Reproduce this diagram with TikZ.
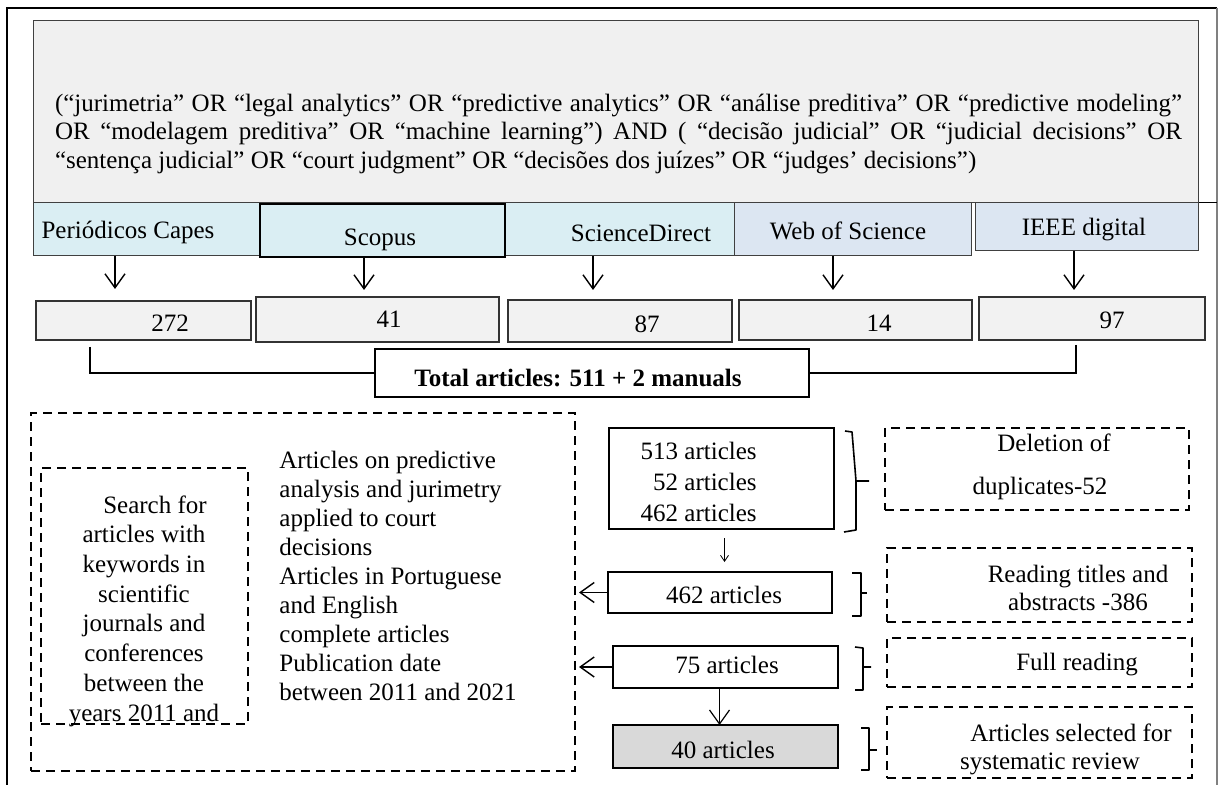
\documentclass[tikz,border=0pt]{standalone}
\usepackage{fontspec}
\setmainfont{Liberation Serif}
\usetikzlibrary{fit,arrows.meta}
\definecolor{cyanlite}{HTML}{DAEEF3}
\definecolor{bluelite}{HTML}{DCE6F2}
\definecolor{qgray}{HTML}{F0F0F0}
\definecolor{cgray}{HTML}{F2F2F2}
\definecolor{selgray}{HTML}{D9D9D9}
\begin{document}
\begin{tikzpicture}[x=0.5pt,y=-0.5pt,
  every node/.style={font=\fontsize{12.5}{14.4}\selectfont},
  frame/.style={inner sep=0pt, outer sep=0pt},
  dbbox/.style={frame, draw=black!75, line width=0.5pt},
  cntbox/.style={frame, draw=black!80, fill=cgray, line width=0.8pt},
  solidbox/.style={frame, draw=black, line width=0.8pt, fill=white},
  dashbox/.style={frame, draw=black, line width=0.8pt, dash pattern=on 4.5pt off 3pt},
  txt/.style={inner sep=0pt, text height=8.6pt, text depth=2.7pt},
  arr/.style={line width=0.7pt, -{Straight Barb[length=7pt,width=10pt]}},
  smallarr/.style={line width=0.4pt, -{Straight Barb[length=3pt,width=4pt]}},
  brace/.style={line width=0.8pt, line join=round}]
\useasboundingbox (0,0) rectangle (1219,785);
\fill[white] (0,0) rectangle (1219,785);
% outer frame
\draw[line width=1pt] (7,785) -- (7,8) -- (1217,8);
\draw[black!50, line width=0.6pt] (1217,8) -- (1217,785);
% query
\node[dbbox, fill=qgray, fit={(33,21) (1198,203)}] (query) {};
\coordinate (qr) at (1217,203);
\draw[line width=0.5pt] (query.south east) -- (qr);
\node[text width=563.5pt, align=justify, inner sep=0pt] (qtext) at (618.5,134) {(“jurimetria” OR “legal analytics” OR “predictive analytics” OR “análise preditiva” OR “predictive modeling”\linebreak OR “modelagem preditiva” OR “machine learning”) AND ( “decisão judicial” OR “judicial decisions” OR\linebreak “sentença judicial” OR “court judgment” OR “decisões dos juízes” OR “judges’ decisions”)};
% databases
\node[dbbox, fill=cyanlite, fit={(33,203) (260,256)}] (capes) {};
\node[dbbox, fill=cyanlite, fit={(505,203) (734,256)}] (sd) {};
\node[frame, draw=black, line width=1pt, fill=cyanlite, fit={(260,204) (505,257)}] (scopus) {};
\node[dbbox, fill=bluelite, fit={(734,203) (971,256)}] (wos) {};
\node[dbbox, fill=bluelite, fit={(975,203) (1198,251)}] (ieee) {};
\node[txt] (tcapes) at (128,233) {Periódicos Capes};
\node[txt] (tscopus) at (380,240) {Scopus};
\node[txt] (tsd) at (641,236) {ScienceDirect};
\node[txt] (twos) at (848,234) {Web of Science};
\node[txt] (tieee) at (1084,230) {IEEE digital};
% arrows to counts
\coordinate (pa) at (115,289);
\coordinate (sa) at (364,290);
\coordinate (sda) at (593,290);
\coordinate (wa) at (833,290);
\coordinate (ia) at (1074,290);
\draw[arr] (pa |- capes.south) -- (pa);
\draw[arr] (sa |- scopus.south) -- (sa);
\draw[arr] (sda |- sd.south) -- (sda);
\draw[arr] (wa |- wos.south) -- (wa);
\draw[arr] (ia |- ieee.south) -- (ia);
% counts
\node[cntbox, fit={(36,301) (251,340)}] (n1) {};
\node[cntbox, fit={(256,297) (499,342)}] (n2) {};
\node[cntbox, fit={(508,300) (732,342)}] (n3) {};
\node[cntbox, fit={(739,300) (972,340)}] (n4) {};
\node[cntbox, fit={(979,297) (1205,340)}] (n5) {};
\node[txt] (t1) at (170,326) {272};
\node[txt] (t2) at (389,322) {41};
\node[txt] (t3) at (647,327) {87};
\node[txt] (t4) at (879,326) {14};
\node[txt] (t5) at (1112,323) {97};
% total
\node[solidbox, fit={(375,349) (809,397)}] (total) {};
\node[txt, font=\fontsize{12.5}{14.4}\selectfont\bfseries] (ttotal) at (578,381) {Total articles: 511 + 2 manuals};
\coordinate (l1) at (90,347);
\coordinate (r1) at (1076,345);
\draw[line width=0.8pt] (l1) |- (total.west);
\draw[line width=0.8pt] (r1) |- (total.east);
% criteria
\node[dashbox, fit={(31,413) (575,771)}] (crit) {};
\node[dashbox, fit={(41,468) (248,724)}] (search) {};
\node[inner sep=0pt, align=center, font=\fontsize{12.5}{14.85}\selectfont] (tsearch) at (144,611) {\hspace*{11pt}Search for\\articles with\\keywords in\\scientific\\journals and\\conferences\\between the\\years 2011 and};
\node[inner sep=0pt, align=left, anchor=west, font=\fontsize{12.5}{14.5}\selectfont] (tcrit) at (279,576) {Articles on predictive\\analysis and jurimetry\\applied to court\\decisions\\Articles in Portuguese\\and English\\complete articles\\Publication date\\between 2011 and 2021};
% right column
\node[solidbox, fit={(609,428) (834,529)}] (b1) {};
\node[inner sep=0pt, align=right, anchor=east, font=\fontsize{12.5}{15.5}\selectfont] (tb1) at (757,482) {513 articles\\52 articles\\462 articles};
\node[dashbox, fit={(885,428) (1189,510)}] (del) {};
\node[inner sep=0pt, align=center, font=\fontsize{12.5}{21.5}\selectfont] (tdel) at (1040,467) {\hspace*{14pt}Deletion of\\duplicates-52};
\draw[brace] (845,431) -- (852,432) -- (856,481) -- (869,481) (856,481) -- (856,530) -- (844,532);

\node[solidbox, fit={(608,572) (832,613)}] (b2) {};
\node[txt] (tb2) at (724,598) {462 articles};
\draw[smallarr, shorten <=4.5pt, shorten >=5pt] ([xshift=1.5pt]b1.south) -- ([xshift=1.5pt]b1.south |- b2.north);
\draw[arr, shorten >=2pt] (b2.west) -- (b2.west -| crit.east);
\node[dashbox, fit={(887,548) (1192,622)}] (read) {};
\node[inner sep=0pt, align=center, font=\fontsize{12.5}{14}\selectfont] (tread) at (1078,588) {Reading titles and\\abstracts -386};
\draw[brace] (852,573) -- (861,573) -- (861,616) -- (852,616) (861,593) -- (867,593);

\node[solidbox, fit={(613,646) (838,688)}] (b3) {};
\node[txt] (tb3) at (727,668) {75 articles};
\draw[arr, shorten >=2pt] (b3.west) -- (b3.west -| crit.east);
\node[dashbox, fit={(887,638) (1192,687)}] (full) {};
\node[txt] (tfull) at (1077,665) {Full reading};
\draw[brace] (855,647) -- (863,648) -- (863,690) -- (855,690) (863,667) -- (871,667);

\node[solidbox, fill=selgray, fit={(613,725) (838,768)}] (b4) {};
\node[txt] (tb4) at (723,753) {40 articles};
\draw[arr, line width=0.6pt] ([xshift=-3pt]b3.south) -- ([xshift=-3pt]b4.north);
\node[dashbox, fit={(887,707) (1192,778)}] (sel) {};
\node[inner sep=0pt, align=center, font=\fontsize{12.5}{14}\selectfont] (tsel) at (1050,749) {\hspace*{21pt}Articles selected for\\systematic review};
\draw[brace] (861,728) -- (869,728) -- (869,770) -- (861,770) (869,750) -- (877,750);
\end{tikzpicture}
\end{document}
